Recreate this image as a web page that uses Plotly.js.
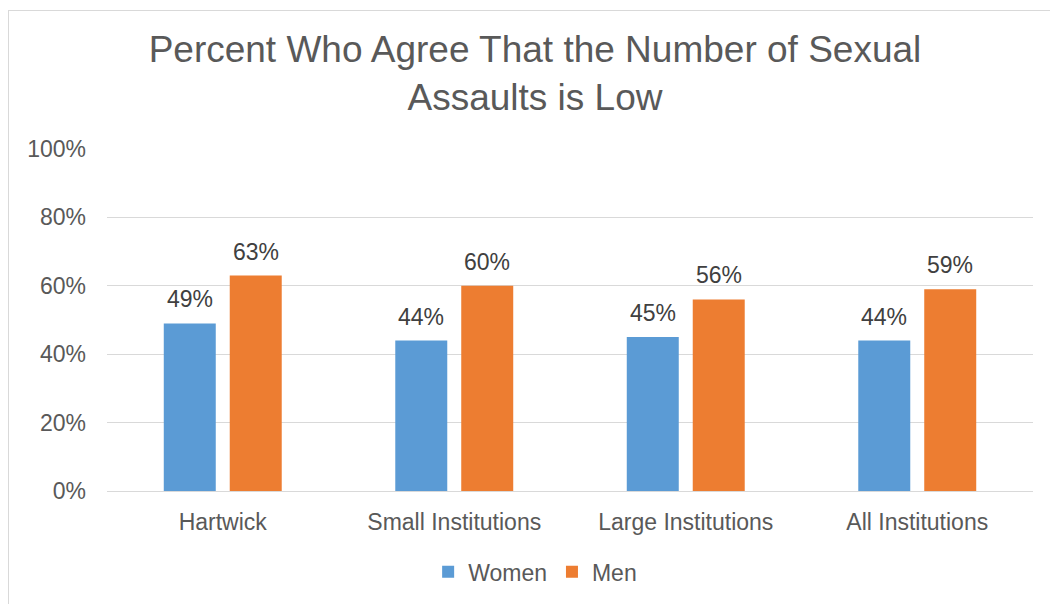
<!DOCTYPE html>
<html>
<head>
<meta charset="utf-8">
<script src="https://cdn.plot.ly/plotly-3.0.1.min.js"></script>
<style>
  html, body { margin: 0; padding: 0; background: #ffffff; }
  #wrap { position: relative; width: 1050px; height: 604px; overflow: hidden; }
  #chart { position: absolute; left: 0; top: 0; width: 1050px; height: 604px; }
  #frame { position: absolute; left: 8px; top: 10px; width: 1100px; height: 700px;
           border-left: 1px solid #d9d9d9; border-top: 1px solid #d9d9d9; pointer-events: none; z-index: 5; }
</style>
</head>
<body>
<div id="wrap">
  <div id="chart"></div>
  <div id="frame"></div>
</div>
<script>
const categories = ["Hartwick", "Small Institutions", "Large Institutions", "All Institutions"];
const women = [49, 44, 45, 44];
const men = [63, 60, 56, 59];
const yTicks = [0, 20, 40, 60, 80, 100];
const chartTitle = "Percent Who Agree That the Number of Sexual<br>Assaults is Low";

const FONT = "Liberation Sans, Arial, sans-serif";
const GRAY = "#595959";

const traces = [
  { type: "bar", name: "Women", x: categories, y: women, marker: { color: "#5B9BD5" }, hoverinfo: "y" },
  { type: "bar", name: "Men", x: categories, y: men, marker: { color: "#ED7D31" }, hoverinfo: "y" }
];

const annotations = [];
categories.forEach((c, i) => {
  annotations.push({ x: c, y: women[i], xref: "x", yref: "y", text: women[i] + "%", showarrow: false,
    xshift: -33, yshift: 24, yanchor: "middle", font: { family: FONT, size: 23, color: "#404040" } });
  annotations.push({ x: c, y: men[i], xref: "x", yref: "y", text: men[i] + "%", showarrow: false,
    xshift: 33, yshift: 24, yanchor: "middle", font: { family: FONT, size: 23, color: "#404040" } });
});

const layout = {
  width: 1050, height: 604,
  margin: { l: 107, r: 17, t: 149, b: 112 },
  paper_bgcolor: "#ffffff", plot_bgcolor: "#ffffff",
  font: { family: FONT, color: GRAY, size: 23 },
  title: { text: chartTitle, font: { family: FONT, size: 37, color: GRAY },
           x: 0.5095, xanchor: "center", xref: "container", y: 0.897, yanchor: "top", yref: "container" },
  barmode: "group", bargap: 0.43, bargroupgap: 0.212,
  xaxis: { type: "category", showgrid: false, showline: true, linecolor: "#d9d9d9", linewidth: 1,
           ticks: "", tickfont: { family: FONT, size: 23, color: GRAY }, ticklabelstandoff: 10, zeroline: false },
  yaxis: { range: [0, 100], tickvals: yTicks, ticktext: yTicks.map(v => v + "%"), showgrid: true,
           gridcolor: "#d9d9d9", gridwidth: 1, zeroline: false, showline: false, ticks: "",
           tickfont: { family: FONT, size: 23, color: GRAY }, ticklabelstandoff: 20 },
  showlegend: true,
  legend: { orientation: "h", x: 0.3468, xanchor: "left", y: -0.233, yanchor: "middle",
            font: { family: FONT, size: 23, color: GRAY }, itemclick: false, traceorder: "normal" },
  annotations: annotations
};

Plotly.newPlot("chart", traces, layout, { displayModeBar: false, staticPlot: true });
</script>
</body>
</html>
